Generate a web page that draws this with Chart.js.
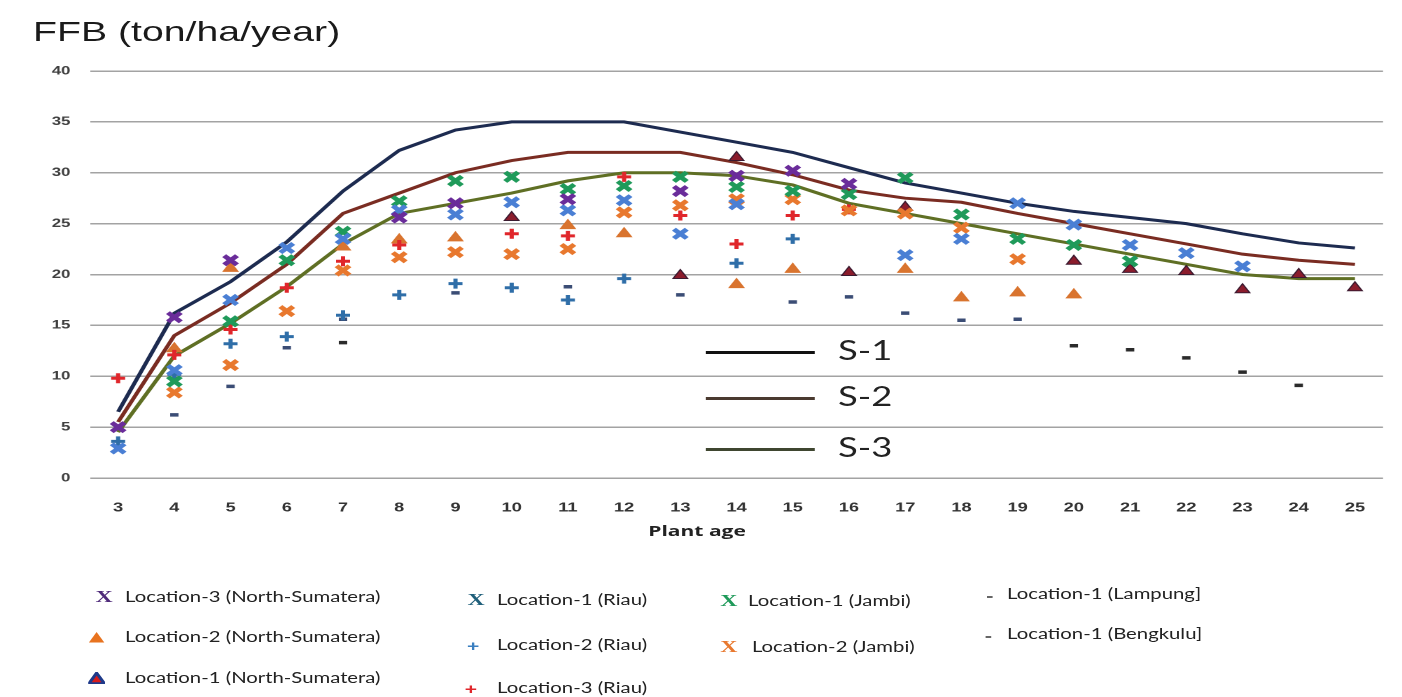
<!DOCTYPE html>
<html>
<head>
  <meta charset="utf-8">
  <title>FFB by plant age</title>
  <script src="https://cdn.jsdelivr.net/npm/chart.js@4.4.0/dist/chart.umd.min.js"></script>
  <style>
    body { margin: 0; background: #fff; overflow: hidden; }
    /* the reference figure is stretched horizontally, so the whole page is too */
    #wrap { position: relative; width: 1001.4px; height: 697px; transform: scaleX(1.4); transform-origin: 0 0; font-family: Lato, sans-serif; color: #222; }
    #box { position: absolute; left: 0; top: 0; width: 1001.4px; height: 697px; }
    .abs { position: absolute; white-space: nowrap; }
    #ytitle { left: 23.6px; top: 18px; font: 28px "Liberation Sans", Arial, sans-serif; line-height: 28px; color: #1a1a1a; }
    #xtitle { left: 497.9px; top: 520px; transform: translateX(-50%); font: bold 15px "Open Sans", sans-serif; line-height: 20px; color: #222; }
    .zone { font: 26px Lato, sans-serif; line-height: 30px; color: #222; }
    .zline { height: 3px; }
    .leg { font: 14.5px Lato, sans-serif; line-height: 20px; color: #222; }
    .mk { position: absolute; transform: translate(-50%, -50%); line-height: 1; }
  </style>
</head>
<body>
<div id="wrap">
  <div id="ytitle" class="abs">FFB (ton/ha/year)</div>
  <div id="box"><canvas id="myChart"></canvas></div>
  <div id="xtitle" class="abs">Plant age</div>
</div>

<script>
  const ages = ['3', '4', '5', '6', '7', '8', '9', '10', '11', '12', '13', '14', '15', '16', '17', '18', '19', '20', '21', '22', '23', '24', '25'];

  // class curves
  const s1 = [6.5, 16.2, 19.3, 23.2, 28.2, 32.2, 34.2, 35, 35, 35, 34, 33, 32, 30.5, 29, 28, 27, 26.2, 25.6, 25, 24, 23.1, 22.6];
  const s2 = [5.5, 14, 17.2, 21, 26, 28, 30, 31.2, 32, 32, 32, 31, 29.8, 28.3, 27.5, 27.1, 26, 25, 24, 23, 22, 21.4, 21];
  const s3 = [4.5, 12, 15.2, 18.8, 23, 26, 27, 28, 29.2, 30, 30, 29.7, 28.8, 27, 26, 25, 24, 23, 22, 21, 20, 19.6, 19.6];

  // observed yields per location (null = no data at that age)
  const loc3NS = [5.0, 15.8, 21.4, null, null, 25.6, 27.0, null, 27.4, null, 28.2, 29.7, 30.2, 28.9, null, null, null, null, null, null, null, null, null];
  const loc2NS = [null, 12.7, 20.6, null, 22.7, 23.4, 23.6, null, 24.8, 24.0, null, 19.0, 20.5, null, 20.5, 17.7, 18.2, 18.0, null, null, null, null, null];
  const loc1NS = [null, null, null, null, null, null, null, 25.6, null, null, 19.9, 31.5, null, 20.2, 26.6, null, null, 21.3, 20.5, 20.3, 18.5, 20.0, 18.7];
  const loc1Riau = [2.9, 10.6, 17.5, 22.6, 23.5, 26.3, 25.9, 27.1, 26.3, 27.3, 24.0, 26.9, null, null, 21.9, 23.5, 27.0, 24.9, 22.9, 22.1, 20.8, null, null];
  const loc2Riau = [3.6, 10.2, 13.2, 13.9, 16.0, 18.0, 19.1, 18.7, 17.5, 19.6, null, 21.1, 23.5, null, null, null, null, null, null, null, null, null, null];
  const loc3Riau = [9.8, 12.1, 14.6, 18.7, 21.3, 22.9, null, 24.0, 23.8, 29.6, 25.8, 23.0, 25.8, 26.4, null, null, null, null, null, null, null, null, null];
  const loc1Jambi = [null, 9.5, 15.4, 21.4, 24.2, 27.2, 29.2, 29.6, 28.4, 28.7, 29.6, 28.6, 28.2, 27.9, 29.5, 25.9, 23.5, 22.9, 21.3, null, null, null, null];
  const loc2Jambi = [null, 8.4, 11.1, 16.4, 20.4, 21.7, 22.2, 22.0, 22.5, 26.1, 26.8, 27.4, 27.4, 26.3, 26.0, 24.6, 21.5, null, null, null, null, null, null];
  const loc1Lampung = [null, 6.2, 9.0, 12.8, 15.6, null, 18.2, null, 18.8, null, 18.0, null, 17.3, 17.8, 16.2, 15.5, 15.6, null, null, null, null, null, null];
  const loc1Bengkulu = [null, null, null, null, 13.3, null, null, null, null, null, null, null, null, null, null, null, null, 13.0, 12.6, 11.8, 10.4, 9.1, null];

  function pts(label, data, style, color, radius, width, fill) {
    return {
      label: label,
      data: data,
      showLine: false,
      pointStyle: style,
      pointRadius: radius,
      pointHoverRadius: radius,
      pointBorderWidth: width,
      pointBorderColor: color,
      pointBackgroundColor: fill || color,
      borderColor: color,
      backgroundColor: fill || color
    };
  }

  function curve(label, data, color) {
    return {
      label: label,
      data: data,
      borderColor: color,
      borderWidth: 3,
      pointRadius: 0,
      tension: 0,
      fill: false
    };
  }

  const ctx = document.getElementById('myChart').getContext('2d');
  const myChart = new Chart(ctx, {
    type: 'line',
    data: {
      labels: ages,
      datasets: [
        pts('Location-3 (North-Sumatera)', loc3NS, 'crossRot', '#6a2c9a', 6.5, 4),
        pts('Location-1 (Riau)', loc1Riau, 'crossRot', '#4a7fd4', 6.5, 4),
        pts('Location-1 (Jambi)', loc1Jambi, 'crossRot', '#1f9a5a', 6.5, 4),
        pts('Location-2 (Jambi)', loc2Jambi, 'crossRot', '#e8782e', 6.5, 4),
        pts('Location-3 (Riau)', loc3Riau, 'cross', '#e0262b', 5, 3),
        pts('Location-2 (Riau)', loc2Riau, 'cross', '#2f6ea8', 5, 3),
        pts('Location-2 (North-Sumatera)', loc2NS, 'triangle', '#d9742f', 6, 1),
        pts('Location-1 (North-Sumatera)', loc1NS, 'triangle', '#3b1a30', 6, 1, '#8b1c2c'),
        pts('Location-1 (Lampung)', loc1Lampung, 'line', '#3b4d75', 3, 3.5),
        pts('Location-1 (Bengkulu)', loc1Bengkulu, 'line', '#2b2b2b', 3, 3.5),
        curve('S-1', s1, '#1d2b50'),
        curve('S-2', s2, '#7a2c22'),
        curve('S-3', s3, '#5f6f24')
      ]
    },
    options: {
      responsive: true,
      maintainAspectRatio: false,
      animation: false,
      devicePixelRatio: 2,
      layout: { padding: { top: 71, right: 13.5, bottom: 0, left: 0 } },
      plugins: {
        legend: { display: false },
        tooltip: { enabled: false }
      },
      scales: {
        x: {
          offset: true,
          grid: { display: false, drawTicks: false },
          border: { display: false },
          ticks: {
            padding: 22,
            color: '#333',
            font: { family: 'Liberation Sans', size: 13, weight: 'bold' }
          },
          afterFit: (scale) => { scale.height = 219; }
        },
        y: {
          min: 0,
          max: 40,
          grid: { color: '#a3a3a3', lineWidth: 1.5, drawTicks: false },
          border: { display: false },
          ticks: {
            stepSize: 5,
            padding: 14,
            color: '#404040',
            font: { family: 'Liberation Sans', size: 12, weight: 'bold' }
          },
          afterFit: (scale) => { scale.width = 64.3; }
        }
      }
    }
  });

  // legend inside the plot for the class curves
  const wrap = document.getElementById('wrap');
  const zones = [
    { text: 'S-1', color: '#111', y: 352 },
    { text: 'S-2', color: '#4a3a30', y: 398 },
    { text: 'S-3', color: '#3f4630', y: 449 }
  ];
  zones.forEach((z) => {
    const line = document.createElement('div');
    line.className = 'abs zline';
    line.style.left = '503.6px';
    line.style.width = '78.5px';
    line.style.top = (z.y - 1.5) + 'px';
    line.style.background = z.color;
    wrap.appendChild(line);
    const t = document.createElement('div');
    t.className = 'abs zone';
    t.style.left = '598.6px';
    t.style.top = (z.y - 17) + 'px';
    t.textContent = z.text;
    wrap.appendChild(t);
  });

  // legend under the chart for the locations
  const triSvg = (fill, stroke) =>
    `<svg width="12" height="12" viewBox="0 0 12 12"><polygon points="6,1 11.5,11.5 0.5,11.5" fill="${fill}" stroke="${stroke}" stroke-width="${stroke === fill ? 0 : 2.4}"/></svg>`;
  const xMark = (c) => `<span style="font:bold 17px 'Liberation Serif';color:${c}">X</span>`;
  const plusMark = (c) => `<span style="font:bold 15px 'Liberation Sans';color:${c}">+</span>`;
  const dashMark = (c) => `<div style="width:4px;height:2px;background:${c};margin-top:6px"></div>`;

  const legendItems = [
    { label: 'Location-3 (North-Sumatera)', mark: xMark('#4f2a7a'), mx: 74.3, tx: 89.3, y: 597 },
    { label: 'Location-2 (North-Sumatera)', mark: triSvg('#e8731f', '#e8731f'), mx: 69.3, tx: 89.3, y: 637 },
    { label: 'Location-1 (North-Sumatera)', mark: triSvg('#d81c1c', '#1f3a8a'), mx: 69.3, tx: 89.3, y: 678 },
    { label: 'Location-1 (Riau)', mark: xMark('#1f5f7a'), mx: 340, tx: 355, y: 600 },
    { label: 'Location-2 (Riau)', mark: plusMark('#3a7fc0'), mx: 338, tx: 355, y: 645 },
    { label: 'Location-3 (Riau)', mark: plusMark('#e0262b'), mx: 336.4, tx: 355, y: 688 },
    { label: 'Location-1 (Jambi)', mark: xMark('#1f9a5a'), mx: 520.7, tx: 534.3, y: 601 },
    { label: 'Location-2 (Jambi)', mark: xMark('#e8782e'), mx: 520.7, tx: 537.1, y: 647 },
    { label: 'Location-1 (Lampung]', mark: dashMark('#666'), mx: 707, tx: 719.3, y: 594 },
    { label: 'Location-1 (Bengkulu]', mark: dashMark('#666'), mx: 706, tx: 719.3, y: 634 }
  ];
  legendItems.forEach((it) => {
    const m = document.createElement('div');
    m.className = 'mk';
    m.style.left = it.mx + 'px';
    m.style.top = it.y + 'px';
    m.innerHTML = it.mark;
    wrap.appendChild(m);
    const t = document.createElement('div');
    t.className = 'abs leg';
    t.style.left = it.tx + 'px';
    t.style.top = (it.y - 10) + 'px';
    t.textContent = it.label;
    wrap.appendChild(t);
  });
</script>
</body>
</html>
